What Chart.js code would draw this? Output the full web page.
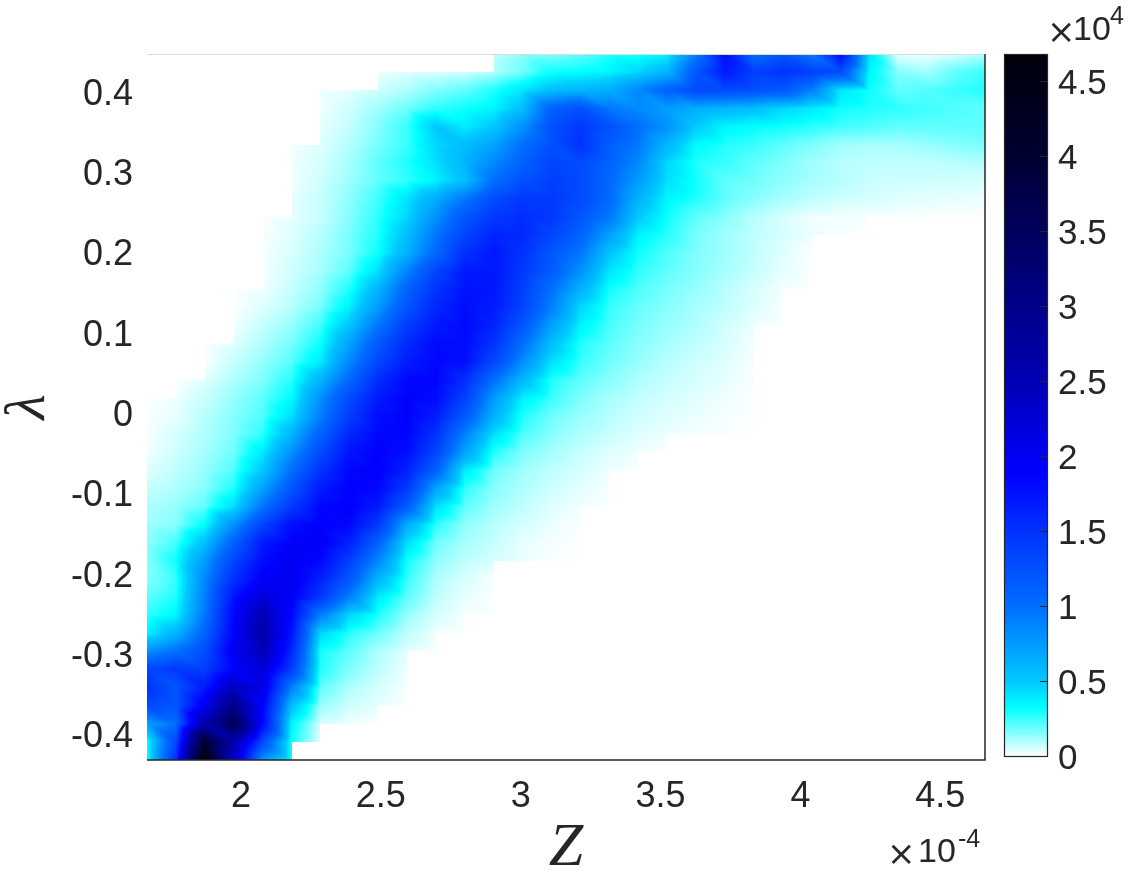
<!DOCTYPE html>
<html>
<head>
<meta charset="utf-8">
<style>
  html, body { margin: 0; padding: 0; background: #fff; }
  canvas { display: block; }
</style>
<script src="https://cdn.jsdelivr.net/npm/chart.js@4"></script>
</head>
<body>
<canvas id="heat" width="1144" height="875"></canvas>
<script>
// Z grid (x 1e-4), lambda grid (top row first)
const zNodes = [1.664,1.767,1.871,1.974,2.077,2.181,2.284,2.387,2.490,2.594,2.697,2.800,2.904,3.007,3.110,3.214,3.317,3.420,3.523,3.627,3.730,3.833,3.937,4.040,4.143,4.246,4.350,4.453,4.556,4.660];
const lambdaNodes = [0.4486,0.4260,0.4035,0.3809,0.3584,0.3358,0.3133,0.2907,0.2682,0.2456,0.2231,0.2005,0.1780,0.1554,0.1329,0.1103,0.0878,0.0652,0.0427,0.0201,-0.0024,-0.0250,-0.0475,-0.0701,-0.0926,-0.1152,-0.1377,-0.1603,-0.1828,-0.2054,-0.2279,-0.2505,-0.2730,-0.2956,-0.3181,-0.3407,-0.3632,-0.3858,-0.4083,-0.4309];

const zTicks = [2, 2.5, 3, 3.5, 4, 4.5];
const lambdaTicks = [-0.4, -0.3, -0.2, -0.1, 0, 0.1, 0.2, 0.3, 0.4];
const colorTicks = [0, 0.5, 1, 1.5, 2, 2.5, 3, 3.5, 4, 4.5];

// colormap stops (value x 1e4 -> rgb)
const cmapValues = [0, 0.32, 0.5, 1, 1.5, 1.89, 2.5, 4, 4.68];
const cmapColors = [[255,255,255],[0,255,255],[0,200,255],[0,110,255],[0,50,255],[0,0,255],[0,0,180],[0,0,50],[0,0,10]];

const _ = null; // no data, left white
// counts x 1e4, one line per lambda row, missing end of a row = no data
const counts = [
[_,_,_,_,_,_,_,_,_,_,_,_,.08,.15,.16,.2,.28,.28,.35,.9,1.8,1.0,1.2,.9,1.8,.4,.03,.02,.05,.1],
[_,_,_,_,_,_,_,_,.02,.04,.05,.06,.1,.18,.3,.32,.35,.45,.6,1.2,1.7,1.4,1.5,1.4,1.3,.35,.15,.12,.2,.25],
[_,_,_,_,_,_,.015,.03,.06,.1,.16,.2,.28,.4,.55,.6,.65,.85,1.1,1.3,1.3,1.25,1.2,.9,.4,.3,.2,.22,.25,.28],
[_,_,_,_,_,_,.02,.06,.12,.18,.26,.3,.35,.55,1.1,1.25,.95,.85,.75,.65,.6,.55,.45,.38,.3,.28,.26,.24,.22,.2],
[_,_,_,_,_,_,.03,.07,.15,.25,.5,.38,.5,.8,1.25,1.45,1.25,1.0,.8,.5,.35,.32,.3,.27,.24,.22,.2,.2,.2,.2],
[_,_,_,_,_,.015,.04,.09,.17,.25,.45,.55,.7,1.0,1.25,1.5,1.15,.95,.6,.33,.28,.25,.2,.16,.12,.11,.11,.13,.15,.17],
[_,_,_,_,_,.02,.05,.11,.2,.28,.42,.6,.85,1.1,1.35,1.3,1.1,.85,.45,.28,.25,.2,.16,.12,.09,.08,.08,.08,.09,.1],
[_,_,_,_,_,.02,.06,.12,.2,.26,.36,.55,1.0,1.25,1.4,1.3,1.05,.75,.42,.3,.2,.18,.14,.11,.09,.07,.06,.06,.06,.05],
[_,_,_,_,_,.03,.07,.14,.24,.4,.65,.95,1.3,1.45,1.45,1.3,1.05,.62,.35,.28,.2,.15,.11,.08,.06,.05,.04,.035,.03,.02],
[_,_,_,_,.005,.03,.07,.15,.26,.45,.8,1.2,1.45,1.55,1.45,1.2,.95,.5,.3,.2,.15,.09,.05,.02,.015,.01,.007,.005,.003,.003],
[_,_,_,_,.01,.04,.09,.17,.28,.55,.95,1.35,1.62,1.58,1.35,1.1,.72,.36,.27,.17,.12,.08,.05,.025,.012,.005],
[_,_,_,_,.01,.05,.1,.17,.3,.62,1.05,1.52,1.72,1.5,1.2,.95,.52,.3,.22,.16,.12,.08,.04,.005],
[_,_,_,_,.01,.06,.11,.2,.42,.88,1.35,1.7,1.72,1.45,1.15,.8,.4,.26,.2,.15,.11,.07,.03,.003],
[_,_,_,.003,.02,.07,.14,.28,.6,1.1,1.5,1.75,1.72,1.4,1.0,.62,.3,.22,.17,.13,.09,.05,.015,.002],
[_,_,_,.005,.04,.09,.17,.36,.75,1.22,1.6,1.8,1.7,1.35,.9,.45,.25,.19,.15,.11,.08,.04,.01],
[_,_,_,.015,.07,.13,.24,.52,.95,1.42,1.72,1.82,1.62,1.2,.72,.36,.23,.17,.13,.1,.06,.025,.003],
[_,_,.003,.04,.1,.17,.3,.7,1.18,1.58,1.82,1.82,1.5,1.0,.55,.28,.2,.15,.11,.08,.05,.015],
[_,_,.005,.07,.13,.21,.38,.85,1.32,1.68,1.85,1.78,1.32,.82,.42,.25,.18,.13,.09,.06,.04,.01],
[_,.002,.04,.1,.16,.27,.6,1.05,1.55,1.85,1.88,1.55,1.0,.58,.28,.2,.15,.1,.07,.05,.03,.008],
[.002,.02,.07,.13,.2,.33,.8,1.3,1.7,1.88,1.82,1.38,.75,.37,.25,.16,.11,.075,.055,.035,.02,.004],
[.005,.03,.09,.15,.22,.42,.9,1.4,1.8,1.9,1.68,1.18,.62,.28,.18,.13,.09,.06,.04,.025,.012,.004],
[.01,.05,.1,.16,.26,.6,1.1,1.6,1.85,1.88,1.5,.9,.42,.22,.15,.1,.07,.04,.025,.015,.008,.002],
[.02,.06,.11,.18,.38,.8,1.3,1.75,1.9,1.8,1.35,.7,.27,.16,.11,.07,.04,.02,.005],
[.04,.08,.13,.22,.5,1.0,1.5,1.85,1.92,1.65,1.1,.38,.18,.12,.08,.05,.025,.005],
[.07,.1,.15,.28,.7,1.2,1.7,1.9,1.85,1.45,.7,.26,.15,.1,.06,.035,.01],
[.1,.13,.2,.42,.95,1.45,1.85,1.92,1.7,1.15,.42,.2,.12,.08,.04,.02,.004],
[.12,.15,.32,.8,1.35,1.8,1.92,1.85,1.45,.65,.26,.14,.09,.05,.025,.004],
[.14,.23,.55,1.1,1.7,1.92,1.95,1.65,1.1,.42,.18,.11,.07,.03,.012,.002],
[.15,.3,.75,1.35,1.8,2.0,1.85,1.4,.85,.3,.14,.08,.05,.025,.008,.002],
[.15,.25,.85,1.5,1.95,2.05,1.65,1.2,.6,.25,.1,.05,.012],
[.2,.28,.9,1.75,2.2,1.95,1.45,.9,.38,.2,.08,.03,.006],
[.25,.35,.95,1.85,2.5,1.85,.9,.45,.28,.13,.05,.012,.003],
[.35,.6,1.1,1.9,2.6,1.75,.45,.27,.18,.08,.02,.003],
[.8,1.0,1.3,2.0,2.5,1.6,.3,.2,.1,.04,.006],
[1.35,1.45,1.4,1.9,2.2,1.4,.28,.16,.08,.02],
[1.5,1.2,1.7,2.4,2.1,.9,.2,.1,.05,.012],
[1.3,1.2,2.0,3.0,1.9,.55,.13,.06,.03,.006],
[.7,1.0,2.6,3.6,1.85,.35,.05,.02,.005],
[.3,1.3,4.0,2.6,1.3,.3,.03],
[.3,1.5,4.68,2.3,.8,.3]
];

const textColor = "#262626";
const tickFont = { family: "'Liberation Sans', Arial, sans-serif", size: 36 };
const barFont = { family: "'Liberation Sans', Arial, sans-serif", size: 35 };

function colorFor(v) {
  let k = 0;
  while (k < cmapValues.length - 2 && v > cmapValues[k + 1]) k++;
  const t = Math.min(1, Math.max(0, (v - cmapValues[k]) / (cmapValues[k + 1] - cmapValues[k])));
  const a = cmapColors[k], b = cmapColors[k + 1];
  return [a[0] + (b[0] - a[0]) * t, a[1] + (b[1] - a[1]) * t, a[2] + (b[2] - a[2]) * t];
}

// index of the grid interval holding value v (works for either sort order)
function findCell(nodes, v) {
  const up = nodes[1] > nodes[0];
  for (let i = 0; i < nodes.length - 1; i++) {
    if (up ? v <= nodes[i + 1] : v >= nodes[i + 1]) return i;
  }
  return nodes.length - 2;
}

// paints the surface pixel by pixel, each face split along its diagonal
const heatPlugin = {
  id: "heatSurface",
  beforeDatasetsDraw(chart) {
    const { ctx, chartArea: area, scales } = chart;
    const left = Math.round(area.left), top = Math.round(area.top);
    const w = Math.round(area.right) - left, h = Math.round(area.bottom) - top;
    const img = ctx.createImageData(w, h);
    for (let py = 0; py < h; py++) {
      const lam = scales.y.getValueForPixel(top + py + 0.5);
      const r = findCell(lambdaNodes, lam);
      const v1 = (lam - lambdaNodes[r]) / (lambdaNodes[r + 1] - lambdaNodes[r]);
      for (let px = 0; px < w; px++) {
        const z = scales.x.getValueForPixel(left + px + 0.5);
        const c = findCell(zNodes, z);
        const u = (z - zNodes[c]) / (zNodes[c + 1] - zNodes[c]);
        const a = counts[r][c], b = counts[r][c + 1];
        const d = counts[r + 1][c], e = counts[r + 1][c + 1];
        if (a == null || b == null || d == null || e == null) continue;
        const val = u > v1
          ? a + (b - a) * u + (e - b) * v1
          : a + (d - a) * v1 + (e - d) * u;
        const rgb = colorFor(val);
        const o = (py * w + px) * 4;
        img.data[o] = rgb[0];
        img.data[o + 1] = rgb[1];
        img.data[o + 2] = rgb[2];
        img.data[o + 3] = 255;
      }
    }
    ctx.putImageData(img, left, top);
  },
  afterDraw(chart) {
    const { ctx, chartArea: area, scales } = chart;
    ctx.save();
    // axes box
    ctx.strokeStyle = "#dcdcdc";
    ctx.lineWidth = 1;
    ctx.beginPath();
    ctx.moveTo(area.left, area.top + 0.5);
    ctx.lineTo(area.right, area.top + 0.5);
    ctx.stroke();
    ctx.strokeStyle = textColor;
    ctx.lineWidth = 1.5;
    ctx.beginPath();
    ctx.moveTo(area.left, area.bottom);
    ctx.lineTo(area.right, area.bottom);
    ctx.lineTo(area.right, area.top);
    ctx.stroke();

    // colorbar
    const barL = 1004, barR = 1047;
    const cb = scales.cb;
    const y0 = Math.round(cb.getPixelForValue(0));
    const y1 = Math.round(cb.getPixelForValue(cb.max));
    for (let y = y1; y < y0; y++) {
      const rgb = colorFor(cb.getValueForPixel(y + 0.5));
      ctx.fillStyle = `rgb(${rgb[0]},${rgb[1]},${rgb[2]})`;
      ctx.fillRect(barL, y, barR - barL, 1);
    }
    ctx.lineWidth = 1.2;
    ctx.strokeRect(barL + 0.5, y1 + 0.5, barR - barL, y0 - y1);
    ctx.beginPath();
    colorTicks.forEach(t => {
      const y = Math.round(cb.getPixelForValue(t)) + 0.5;
      ctx.moveTo(barR, y);
      ctx.lineTo(barR - 7, y);
    });
    ctx.stroke();

    // exponent labels
    ctx.fillStyle = textColor;
    ctx.textBaseline = "alphabetic";
    ctx.textAlign = "left";
    ctx.font = "34px 'DejaVu Sans', sans-serif";
    ctx.fillText("\u00d7", 887, 865);
    ctx.fillText("\u00d7", 1047, 43);
    ctx.font = "34px 'Liberation Sans', Arial, sans-serif";
    ctx.fillText("10", 918, 862);
    ctx.fillText("10", 1073, 40);
    ctx.font = "25px 'Liberation Sans', Arial, sans-serif";
    ctx.fillText("-4", 958, 847);
    ctx.fillText("4", 1110, 24);
    ctx.restore();
  }
};

new Chart(document.getElementById("heat").getContext("2d"), {
  type: "scatter",
  data: {
    datasets: [{
      label: "counts",
      data: counts.flatMap((row, r) => zNodes.map((z, c) => ({ x: z, y: lambdaNodes[r], v: row[c] }))),
      pointRadius: 0,
      showLine: false,
    }],
  },
  options: {
    responsive: false,
    animation: false,
    devicePixelRatio: 1,
    layout: { padding: { top: 54, left: 0, right: 0, bottom: 0 } },
    plugins: { legend: { display: false }, tooltip: { enabled: false } },
    scales: {
      x: {
        type: "linear",
        min: 1.664,
        max: 4.66,
        grid: { display: false },
        border: { display: false },
        afterBuildTicks: s => { s.ticks = zTicks.map(value => ({ value })); },
        afterFit: s => { s.height = 115; s.paddingLeft = 0; s.paddingRight = 0; },
        ticks: {
          color: textColor, font: tickFont, padding: 7, maxRotation: 0,
          callback: v => String(v),
        },
        title: {
          display: true, text: "Z", color: textColor,
          font: { family: "'Liberation Serif', serif", style: "italic", size: 62 },
          padding: { top: 0, bottom: -11 },
        },
      },
      y: {
        type: "linear",
        min: -0.431,
        max: 0.4486,
        grid: { display: false },
        border: { display: false },
        afterBuildTicks: s => { s.ticks = lambdaTicks.map(value => ({ value })); },
        afterFit: s => { s.width = 147; s.paddingTop = 0; s.paddingBottom = 0; },
        ticks: {
          color: textColor, font: tickFont, padding: 6, labelOffset: 2,
          callback: v => String(v),
        },
        title: {
          display: true, text: "\u03bb", color: textColor,
          font: { family: "'Liberation Serif', serif", style: "italic", size: 58 },
          padding: { top: -6, bottom: 0 },
        },
      },
      cb: {
        type: "linear",
        position: "right",
        min: -0.027,
        max: 4.68,
        grid: { display: false, drawTicks: false },
        border: { display: false },
        afterBuildTicks: s => { s.ticks = colorTicks.map(value => ({ value })); },
        afterFit: s => { s.width = 159; s.paddingTop = 0; s.paddingBottom = 0; },
        ticks: {
          color: textColor, font: barFont, padding: 73, labelOffset: 3,
          callback: v => String(v),
        },
      },
    },
  },
  plugins: [heatPlugin],
});
</script>
</body>
</html>
